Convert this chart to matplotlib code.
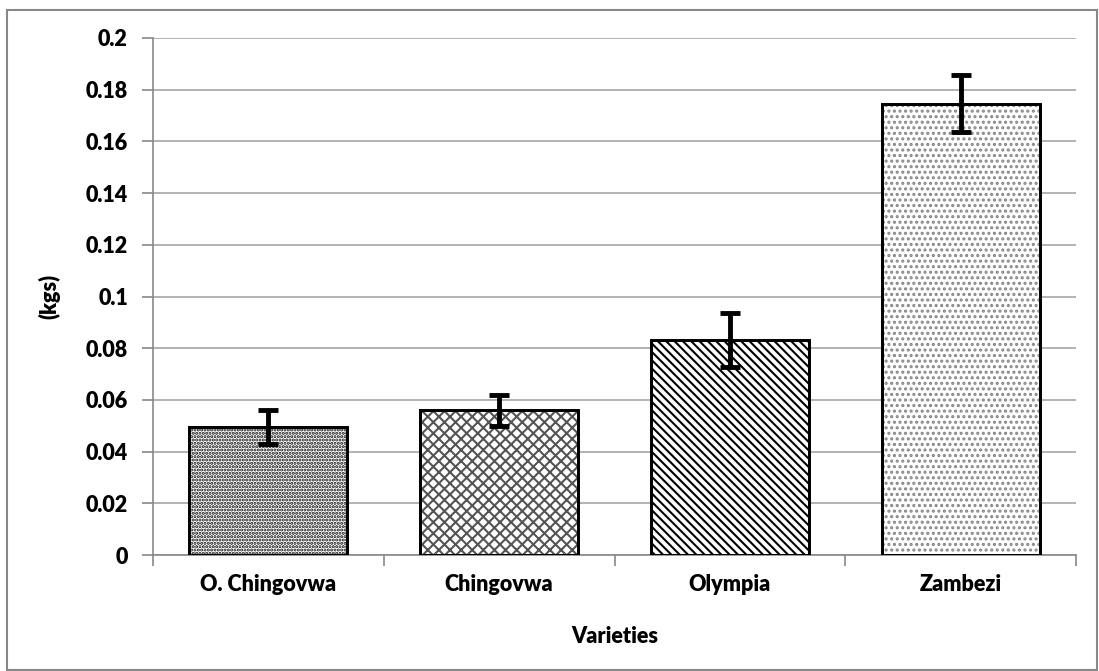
import matplotlib
matplotlib.use('Agg')
import matplotlib.pyplot as plt
from matplotlib.patches import Rectangle

plt.rcParams['font.family'] = ['Lato', 'DejaVu Sans']
plt.rcParams['hatch.linewidth'] = 1.5

varieties = ['O. Chingovwa', 'Chingovwa', 'Olympia', 'Zambezi']
means = [0.0495, 0.056, 0.0832, 0.1745]
errors = [0.0065, 0.006, 0.0105, 0.011]
hatches = ['.....', 'xxx', '\\\\\\\\', '...']
hatch_colors = ['#111111', '#555555', '#000000', '#888888']

W, H = 1099, 671
fig = plt.figure(figsize=(W / 100, H / 100), dpi=100)
ax = fig.add_axes([153 / W, 1 - 555 / H, (1076 - 153) / W, (555 - 38) / H])

x = list(range(len(varieties)))
bars = ax.bar(x, means, width=0.685, color='white', edgecolor='black',
              linewidth=2, zorder=3)
for b, h, hc in zip(bars, hatches, hatch_colors):
    b.set_hatch(h)
    b._hatch_color = matplotlib.colors.to_rgba(hc)
# outlines on top of the hatched fills
ax.bar(x, means, width=0.685, fill=False, edgecolor='black', linewidth=2, zorder=4)
ax.errorbar(x, means, yerr=errors, fmt='none', ecolor='black', elinewidth=3.5,
            capsize=7, capthick=3.5, zorder=5)

ax.set_xlim(-0.5, 3.5)
ax.set_ylim(0, 0.2)
ticks = [i * 0.02 for i in range(11)]
ax.set_yticks(ticks)
ax.set_yticklabels(['0', '0.02', '0.04', '0.06', '0.08', '0.1', '0.12', '0.14',
                    '0.16', '0.18', '0.2'])
ax.set_xticks(x)
ax.set_xticklabels(varieties)
ax.set_xticks([-0.5, 0.5, 1.5, 2.5, 3.5], minor=True)
ax.tick_params(axis='x', which='major', length=0, pad=14)
ax.tick_params(axis='x', which='minor', length=8, color='#888888', width=1.2)
ax.tick_params(axis='y', length=8, color='#888888', width=1.2, pad=10)
for lab in ax.get_xticklabels() + ax.get_yticklabels():
    lab.set_fontsize(15.5)
    lab.set_fontweight('heavy')

ax.grid(axis='y', color='#a6a6a6', linewidth=1.2, zorder=0)
for s in ['top', 'right']:
    ax.spines[s].set_visible(False)
for s in ['left', 'bottom']:
    ax.spines[s].set_color('#888888')
    ax.spines[s].set_linewidth(1.2)

ax.set_ylabel('(kgs)', fontsize=15.5, fontweight='heavy', labelpad=18)
ax.set_xlabel('Varieties', fontsize=15.5, fontweight='heavy', labelpad=22)

fig.patches.append(Rectangle((7 / W, 1 / H), (W - 9) / W, (H - 11) / H,
                             transform=fig.transFigure, fill=False,
                             edgecolor='#888888', linewidth=1.5))

fig.savefig('out.png', dpi=100)
